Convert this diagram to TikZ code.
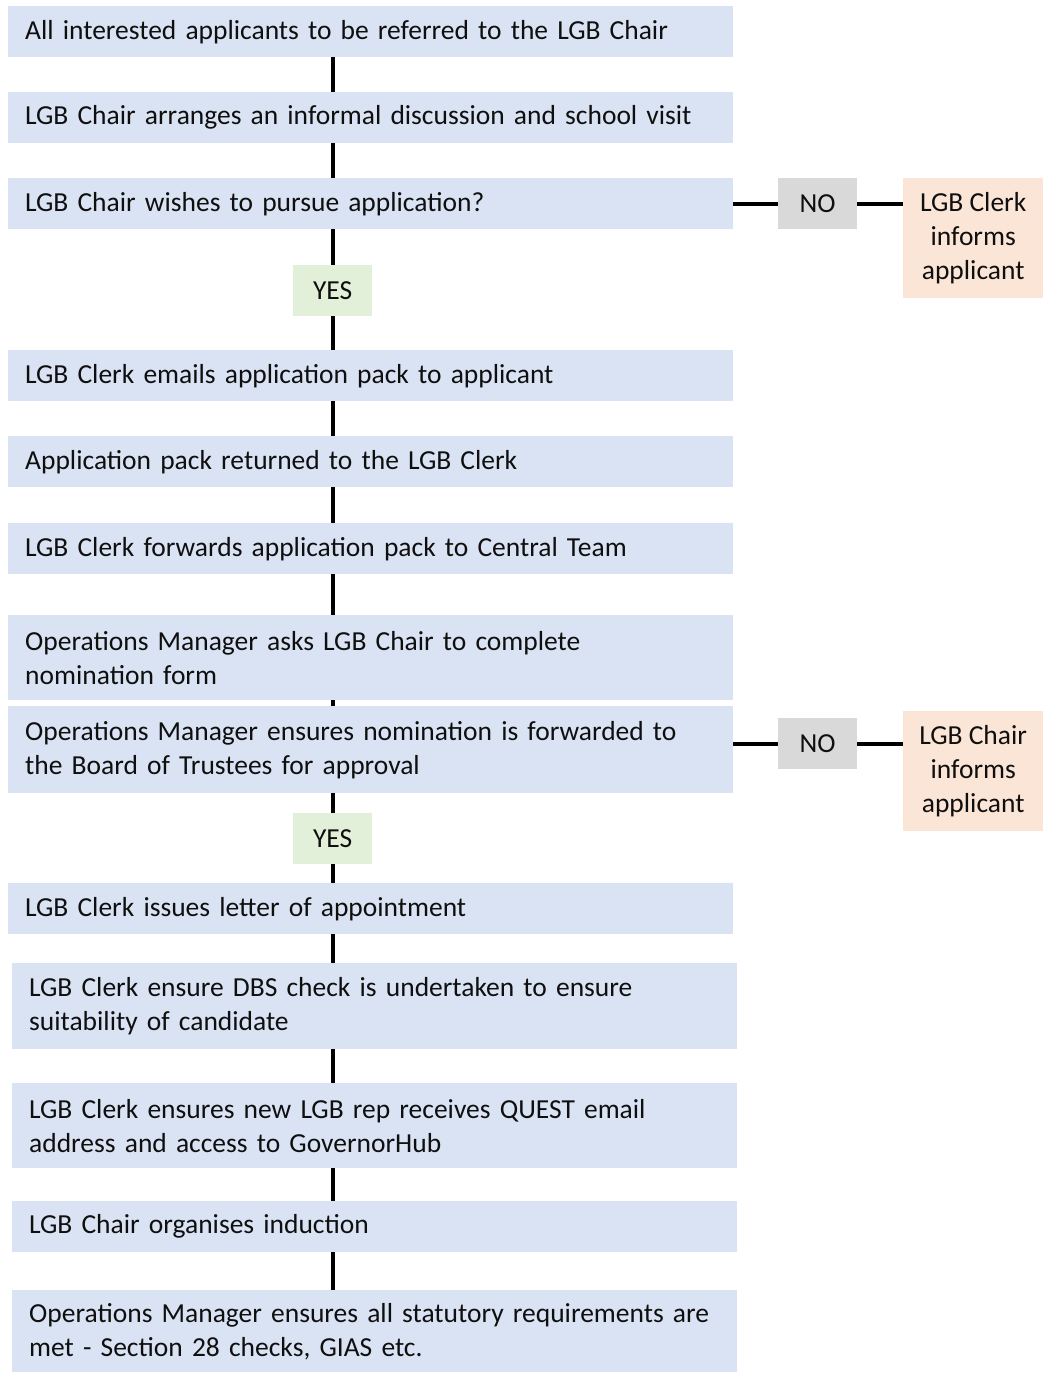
\documentclass[tikz,border=0pt]{standalone}
\usepackage{fontspec}
\setmainfont{Carlito}
\usepackage{tikz}
\usetikzlibrary{positioning,calc}
\definecolor{stepblue}{RGB}{218,227,243}
\definecolor{yesgreen}{RGB}{226,240,217}
\definecolor{nogray}{RGB}{217,217,217}
\definecolor{outpeach}{RGB}{251,229,214}
\definecolor{inkdark}{RGB}{15,15,15}

\begin{document}
\begin{tikzpicture}[
      x=1pt, y=-1pt,
      every node/.style={font=\fontsize{27.5}{34}\selectfont, text=inkdark},
      stage/.style={fill=stepblue, anchor=north west, align=left,
                    text width=691pt, inner xsep=17pt, inner ysep=0pt},
      yesbox/.style={fill=yesgreen, anchor=north west, minimum width=79pt,
                    minimum height=51pt, inner sep=0pt},
      nobox/.style={fill=nogray, anchor=north west, minimum width=79pt,
                    minimum height=51pt, inner sep=0pt},
      outbox/.style={fill=outpeach, anchor=north west, align=center,
                    minimum width=140pt, minimum height=120pt, inner sep=0pt},
      link/.style={line width=4pt, draw=black}
    ]
      \useasboundingbox (0,0) rectangle (1043,1373);

      % --- main top-to-bottom sequence ---
      \node[stage, minimum height=51pt] (apply)   at (8,6)    {All interested applicants to be referred to the LGB Chair};
      \node[stage, minimum height=51pt] (discuss) at (8,92)   {LGB Chair arranges an informal discussion and school visit};
      \node[stage, minimum height=51pt] (pursue)  at (8,178)  {LGB Chair wishes to pursue application?};
      \node[yesbox]                     (yesA)    at (293,265) {YES};
      \node[stage, minimum height=51pt] (emails)  at (8,350)  {LGB Clerk emails application pack to applicant};
      \node[stage, minimum height=51pt] (return)  at (8,436)  {Application pack returned to the LGB Clerk};
      \node[stage, minimum height=51pt] (forward) at (8,523)  {LGB Clerk forwards application pack to Central Team};
      \node[stage, minimum height=85pt] (nominate) at (8,615) {Operations Manager asks LGB Chair to complete\\nomination form};
      \node[stage, minimum height=87pt] (board)   at (8,706)  {Operations Manager ensures nomination is forwarded to\\the Board of Trustees for approval};
      \node[yesbox]                     (yesB)    at (293,813) {YES};
      \node[stage, minimum height=51pt] (letter)  at (8,883)  {LGB Clerk issues letter of appointment};
      \node[stage, minimum height=86pt] (dbs)     at (12,963) {LGB Clerk ensure DBS check is undertaken to ensure\\suitability of candidate};
      \node[stage, minimum height=85pt] (quest)   at (12,1083) {LGB Clerk ensures new LGB rep receives QUEST email\\address and access to GovernorHub};
      \node[stage, minimum height=51pt] (induct)  at (12,1201) {LGB Chair organises induction};
      \node[stage, minimum height=82pt] (statute) at (12,1290) {Operations Manager ensures all statutory requirements are\\met - Section 28 checks, GIAS etc.};

      % --- side branches for a NO answer ---
      \node[nobox]  (noA)   at (778,178) {NO};
      \node[outbox] (clerk) at (903,178) {LGB Clerk\\informs\\applicant};
      \node[nobox]  (noB)   at (778,718) {NO};
      \node[outbox] (chair) at (903,711) {LGB Chair\\informs\\applicant};

      % --- vertical links ---
      \foreach \a/\b in {apply/discuss, discuss/pursue, pursue/yesA, yesA/emails,
                         emails/return, return/forward, forward/nominate,
                         nominate/board, board/yesB, yesB/letter, letter/dbs,
                         dbs/quest, quest/induct, induct/statute}
        \draw[link] (\a.south -| yesA.south) -- (\b.north -| yesA.north);

      % --- horizontal links ---
      \draw[link] (pursue.east |- noA) -- (noA.west);
      \draw[link] (noA.east) -- (noA -| clerk.west);
      \draw[link] (board.east |- noB) -- (noB.west);
      \draw[link] (noB.east) -- (noB -| chair.west);
    \end{tikzpicture}
\end{document}
